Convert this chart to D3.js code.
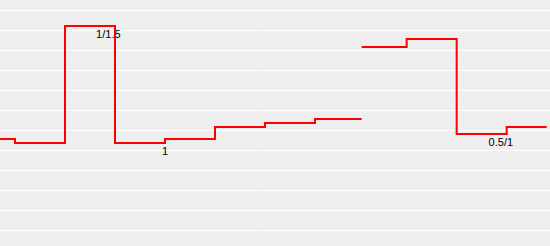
<!DOCTYPE html>
<html>

<head>
    <meta charset=utf-8 />
    <script src="https://cdn.jsdelivr.net/npm/d3@7"></script>
    <title>step chart</title>
    <style>
        html,
        body {
            margin: 0;
            padding: 0;
            background: #eeeeee;
        }

        svg {
            display: block;
        }

        .label {
            font-family: "Liberation Sans", Arial, sans-serif;
            font-size: 11px;
            fill: #000;
        }
    </style>
</head>

<body>
    <div id="svg-canvas"></div>
    <script>
        // minutes from the left edge of the view
        var timesA = [0, 18, 78, 138, 198, 258, 318, 378, 434];
        var valuesA = [5.55, 5.35, 11.2, 5.35, 5.55, 6.15, 6.35, 6.55, 6.55];

        var timesB = [434, 488, 548, 608, 656];
        var valuesB = [10.15, 10.55, 5.8, 6.15, 6.15];

        var gridValues = [1, 2, 3, 4, 5, 6, 7, 8, 9, 10, 11, 12];

        var labelTimes = [130, 198, 601];
        var labelValues = [11.2, 5.35, 5.8];
        var labelTexts = ['1/1.5', '1', '0.5/1'];
    </script>
    <script>
        var width = 550;
        var height = 246;

        var svg = d3.select('#svg-canvas').append('svg')
            .attr('width', width)
            .attr('height', height)

        var x = d3.scaleLinear().domain([0, 660]).range([0, width]);
        var y = d3.scaleLinear().domain([0, 12]).range([250, 10]);

        svg.append('rect')
            .attr('width', width)
            .attr('height', height)
            .attr('fill', '#eeeeee')

        svg.selectAll('.grid')
            .data(gridValues)
            .enter().append('line')
            .attr('class', 'grid')
            .attr('x1', 0)
            .attr('x2', width)
            .attr('y1', d => y(d) + 0.5)
            .attr('y2', d => y(d) + 0.5)
            .attr('stroke', '#ffffff')
            .attr('stroke-width', 1)

        svg.selectAll('.label')
            .data(labelTexts)
            .enter().append('text')
            .attr('class', 'label')
            .attr('text-anchor', 'middle')
            .attr('x', (d, i) => x(labelTimes[i]))
            .attr('y', (d, i) => y(labelValues[i]) + 12)
            .text(d => d)

        var line = d3.line()
            .x(d => x(d[0]))
            .y(d => y(d[1]))
            .curve(d3.curveStepAfter)

        var series = [
            d3.zip(timesA, valuesA),
            d3.zip(timesB, valuesB)
        ];

        svg.selectAll('.step')
            .data(series)
            .enter().append('path')
            .attr('class', 'step')
            .attr('fill', 'none')
            .attr('stroke', '#ff0000')
            .attr('stroke-width', 2)
            .attr('d', line)
    </script>
</body>

</html>
